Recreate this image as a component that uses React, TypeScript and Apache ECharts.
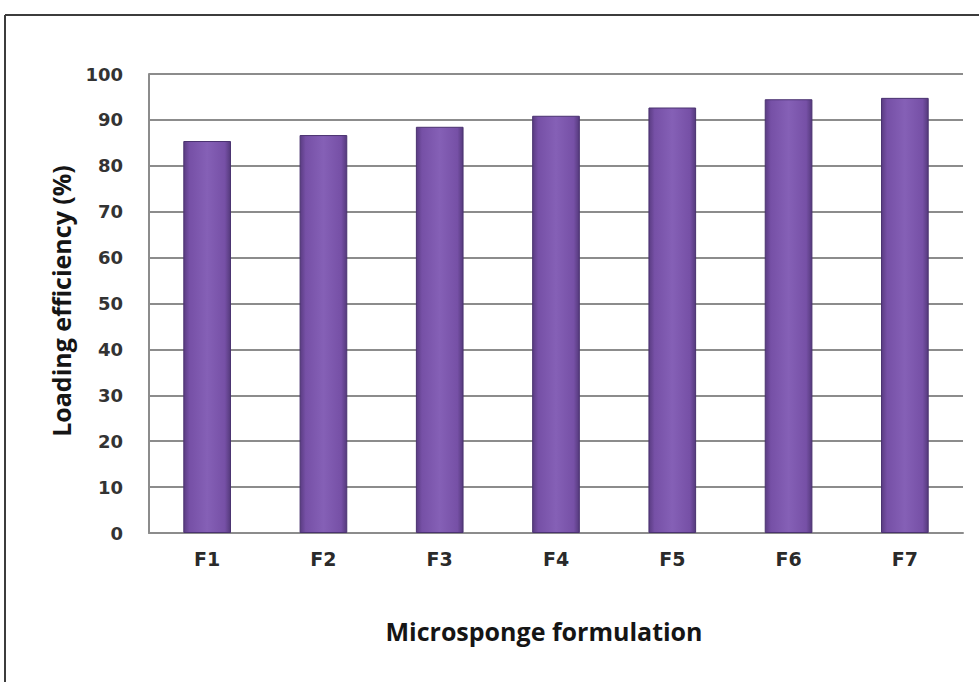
import React, { useEffect, useRef } from "react";
import * as echarts from "echarts";

const categories = ["F1", "F2", "F3", "F4", "F5", "F6", "F7"];
const loadingEfficiency = [85.4, 86.7, 88.5, 90.9, 92.7, 94.5, 94.8];
const yTicks = { min: 0, max: 100, interval: 10 };
const xTitle = "Microsponge formulation";
const yTitle = "Loading efficiency (%)";

export default function App() {
  const ref = useRef<HTMLDivElement>(null);
  useEffect(() => {
    const chart = echarts.init(ref.current!, null, { renderer: "svg" });
    const barGradient = new echarts.graphic.LinearGradient(0, 0, 1, 0, [
      { offset: 0, color: "#5a3c82" },
      { offset: 0.12, color: "#7650a6" },
      { offset: 0.5, color: "#8560b6" },
      { offset: 0.88, color: "#7650a6" },
      { offset: 1, color: "#553a7c" },
    ]);
    chart.setOption({
      animation: false,
      backgroundColor: "#ffffff",
      grid: { left: 149, right: 16, top: 74, bottom: 149 },
      xAxis: {
        type: "category",
        data: categories,
        axisLine: { show: true, lineStyle: { color: "#8c8c8c", width: 2 } },
        axisTick: { show: false },
        axisLabel: {
          margin: 16,
          fontFamily: "DejaVu Sans, sans-serif",
          fontWeight: "bold",
          fontSize: 19,
          color: "#2a2a2a",
        },
      },
      yAxis: {
        type: "value",
        min: yTicks.min,
        max: yTicks.max,
        interval: yTicks.interval,
        axisLine: { show: true, lineStyle: { color: "#8c8c8c", width: 2 } },
        axisTick: { show: false },
        splitLine: { show: true, lineStyle: { color: "#8c8c8c", width: 2 } },
        axisLabel: {
          margin: 26,
          fontFamily: "DejaVu Sans, sans-serif",
          fontWeight: "bold",
          fontSize: 18,
          color: "#333333",
        },
      },
      series: [
        {
          type: "bar",
          data: loadingEfficiency,
          barWidth: "41%",
          itemStyle: {
            color: barGradient,
            borderColor: "#4a3270",
            borderWidth: 1,
          },
        },
      ],
      graphic: [
        {
          type: "line",
          shape: { x1: 5, y1: 15, x2: 979, y2: 15 },
          style: { stroke: "#3c3c3c", lineWidth: 2 },
        },
        {
          type: "line",
          shape: { x1: 5, y1: 15, x2: 5, y2: 682 },
          style: { stroke: "#3c3c3c", lineWidth: 2 },
        },
        {
          type: "text",
          x: 544,
          y: 631,
          style: {
            text: xTitle,
            fontFamily: "Open Sans, sans-serif",
            fontSize: 25,
            fontWeight: "bold",
            fill: "#151515",
            align: "center",
            verticalAlign: "middle",
          },
        },
        {
          type: "text",
          x: 61,
          y: 301,
          rotation: Math.PI / 2,
          style: {
            text: yTitle,
            fontFamily: "Open Sans, sans-serif",
            fontSize: 25,
            fontWeight: "bold",
            fill: "#151515",
            align: "center",
            verticalAlign: "middle",
          },
        },
      ],
    });
    return () => chart.dispose();
  }, []);
  return (
    <div
      ref={ref}
      style={{ position: "fixed", left: 0, top: 0, width: 979, height: 682 }}
    />
  );
}
